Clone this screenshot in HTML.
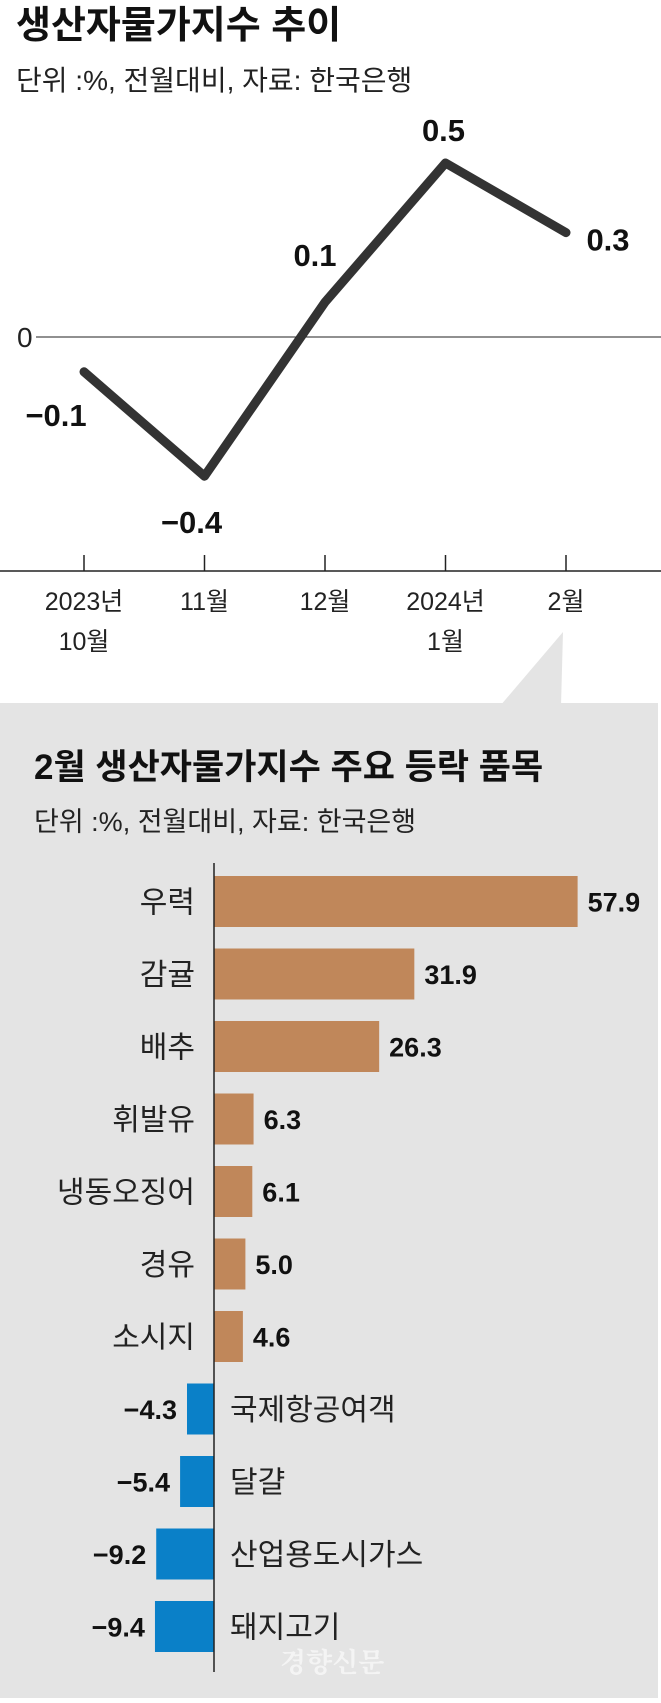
<!DOCTYPE html>
<html><head><meta charset="utf-8"><style>
html,body{margin:0;padding:0;background:#fff;}
body{width:661px;height:1703px;position:relative;overflow:hidden;font-family:"Liberation Sans","Noto Sans CJK KR",sans-serif;}
svg{position:absolute;left:0;top:0;}
</style></head><body>
<svg width="661" height="1703" xmlns="http://www.w3.org/2000/svg">
  <text x="16" y="38" font-size="38" font-weight="bold" fill="#111" font-family="Liberation Sans, Noto Sans CJK KR, sans-serif">생산자물가지수 추이</text>
  <text x="16" y="90" font-size="28" fill="#222" font-family="Liberation Sans, Noto Sans CJK KR, sans-serif">단위 :%, 전월대비, 자료: 한국은행</text>
  <g id="line-chart"></g>
  <polygon points="563,632 500,706 561,706" fill="#e4e4e4"/>
  <rect x="0" y="703" width="658" height="995" fill="#e4e4e4"/>
  <text x="34" y="779" font-size="35" fill="#111" font-family="Liberation Sans, Noto Sans CJK KR, sans-serif" font-weight="bold">2월 생산자물가지수 주요 등락 품목</text>
  <text x="34" y="831" font-size="27" fill="#222" font-family="Liberation Sans, Noto Sans CJK KR, sans-serif">단위 :%,  전월대비, 자료: 한국은행</text>
  <g id="bar-chart"></g>
  <text x="280" y="1672" font-size="27" fill="#f4f4f4" font-weight="bold" font-family="Noto Serif CJK SC, serif">경향신문</text>
</svg>
<script>
const lineCats = ["2023년|10월","11월","12월","2024년|1월","2월"];
const lineVals = [-0.1,-0.4,0.1,0.5,0.3];
const lineLabels = ["−0.1","−0.4","0.1","0.5","0.3"];

const barCats = ["우력","감귤","배추","휘발유","냉동오징어","경유","소시지","국제항공여객","달걀","산업용도시가스","돼지고기"];
const barVals = [57.9,31.9,26.3,6.3,6.1,5.0,4.6,-4.3,-5.4,-9.2,-9.4];
const barLabels = ["57.9","31.9","26.3","6.3","6.1","5.0","4.6","−4.3","−5.4","−9.2","−9.4"];

const NS="http://www.w3.org/2000/svg";
function mk(tag,attrs,parent){const e=document.createElementNS(NS,tag);for(const k in attrs)e.setAttribute(k,attrs[k]);parent.appendChild(e);return e;}
const NUM='"Liberation Sans Narrow","Liberation Sans",sans-serif';
const KR='"Liberation Sans","Noto Sans CJK KR",sans-serif';

// line chart
const lg=document.getElementById('line-chart');
const lx=i=>84+i*120.5;
const ly=v=>337-v*348;
let z=mk('line',{x1:36,y1:337,x2:661,y2:337,stroke:'#222','stroke-width':1},lg);


let zl=mk('text',{x:17,y:347,'font-size':28,'font-family':NUM,fill:'#222'},lg);zl.textContent='0';


let ax=mk('line',{x1:0,y1:571,x2:661,y2:571,stroke:'#222','stroke-width':1.5},lg);


const path=mk('polyline',{points:lineVals.map((v,i)=>lx(i)+','+ly(v)).join(' '),fill:'none',stroke:'#333','stroke-width':9,'stroke-linejoin':'round','stroke-linecap':'round'},lg);


const lblOff=[[-28,43],[-13,46],[-10,-47],[-2,-33],[42,7]];
lineCats.forEach((c,i)=>{
  const t=mk('line',{x1:lx(i),y1:555,x2:lx(i),y2:571,stroke:'#222','stroke-width':1.5},lg);
  
  
  c.split('|').forEach((s,j)=>{
    const tx=mk('text',{x:lx(i),y:610+j*40,'font-size':25,'font-family':NUM,'text-anchor':'middle',fill:'#222'},lg);
    tx.textContent=s;
    
    
  });
  const vl=mk('text',{x:lx(i)+lblOff[i][0],y:ly(lineVals[i])+lblOff[i][1]+11,'font-size':31,'font-weight':'bold','font-family':NUM,'text-anchor':'middle',fill:'#111'},lg);
  vl.textContent=lineLabels[i];
  
  
});

// bar chart
const bg=document.getElementById('bar-chart');
const bx0=214, bs=6.28;
const by=i=>901.5+i*72.5;
barVals.forEach((v,i)=>{
  const w=Math.abs(v)*bs, pos=v>=0;
  const r=mk('rect',{x:pos?bx0:bx0-w,y:by(i)-25.5,width:w,height:51,fill:pos?'#c0875a':'#0a80c8'},bg);
  
  
  const vl=mk('text',{x:pos?bx0+w+10:bx0-w-10,y:by(i)+10,'font-size':27,'font-weight':'bold','font-family':KR,'text-anchor':pos?'start':'end',fill:'#111'},bg);
  vl.textContent=barLabels[i];
  
  
  const cl=mk('text',{x:pos?195:230,y:by(i)+11,'font-size':30,'font-family':KR,'text-anchor':pos?'end':'start',fill:'#222'},bg);
  cl.textContent=barCats[i];
  
  
});
const va=mk('line',{x1:bx0,y1:863,x2:bx0,y2:1672,stroke:'#222','stroke-width':1.5},bg);


</script>
</body></html>
